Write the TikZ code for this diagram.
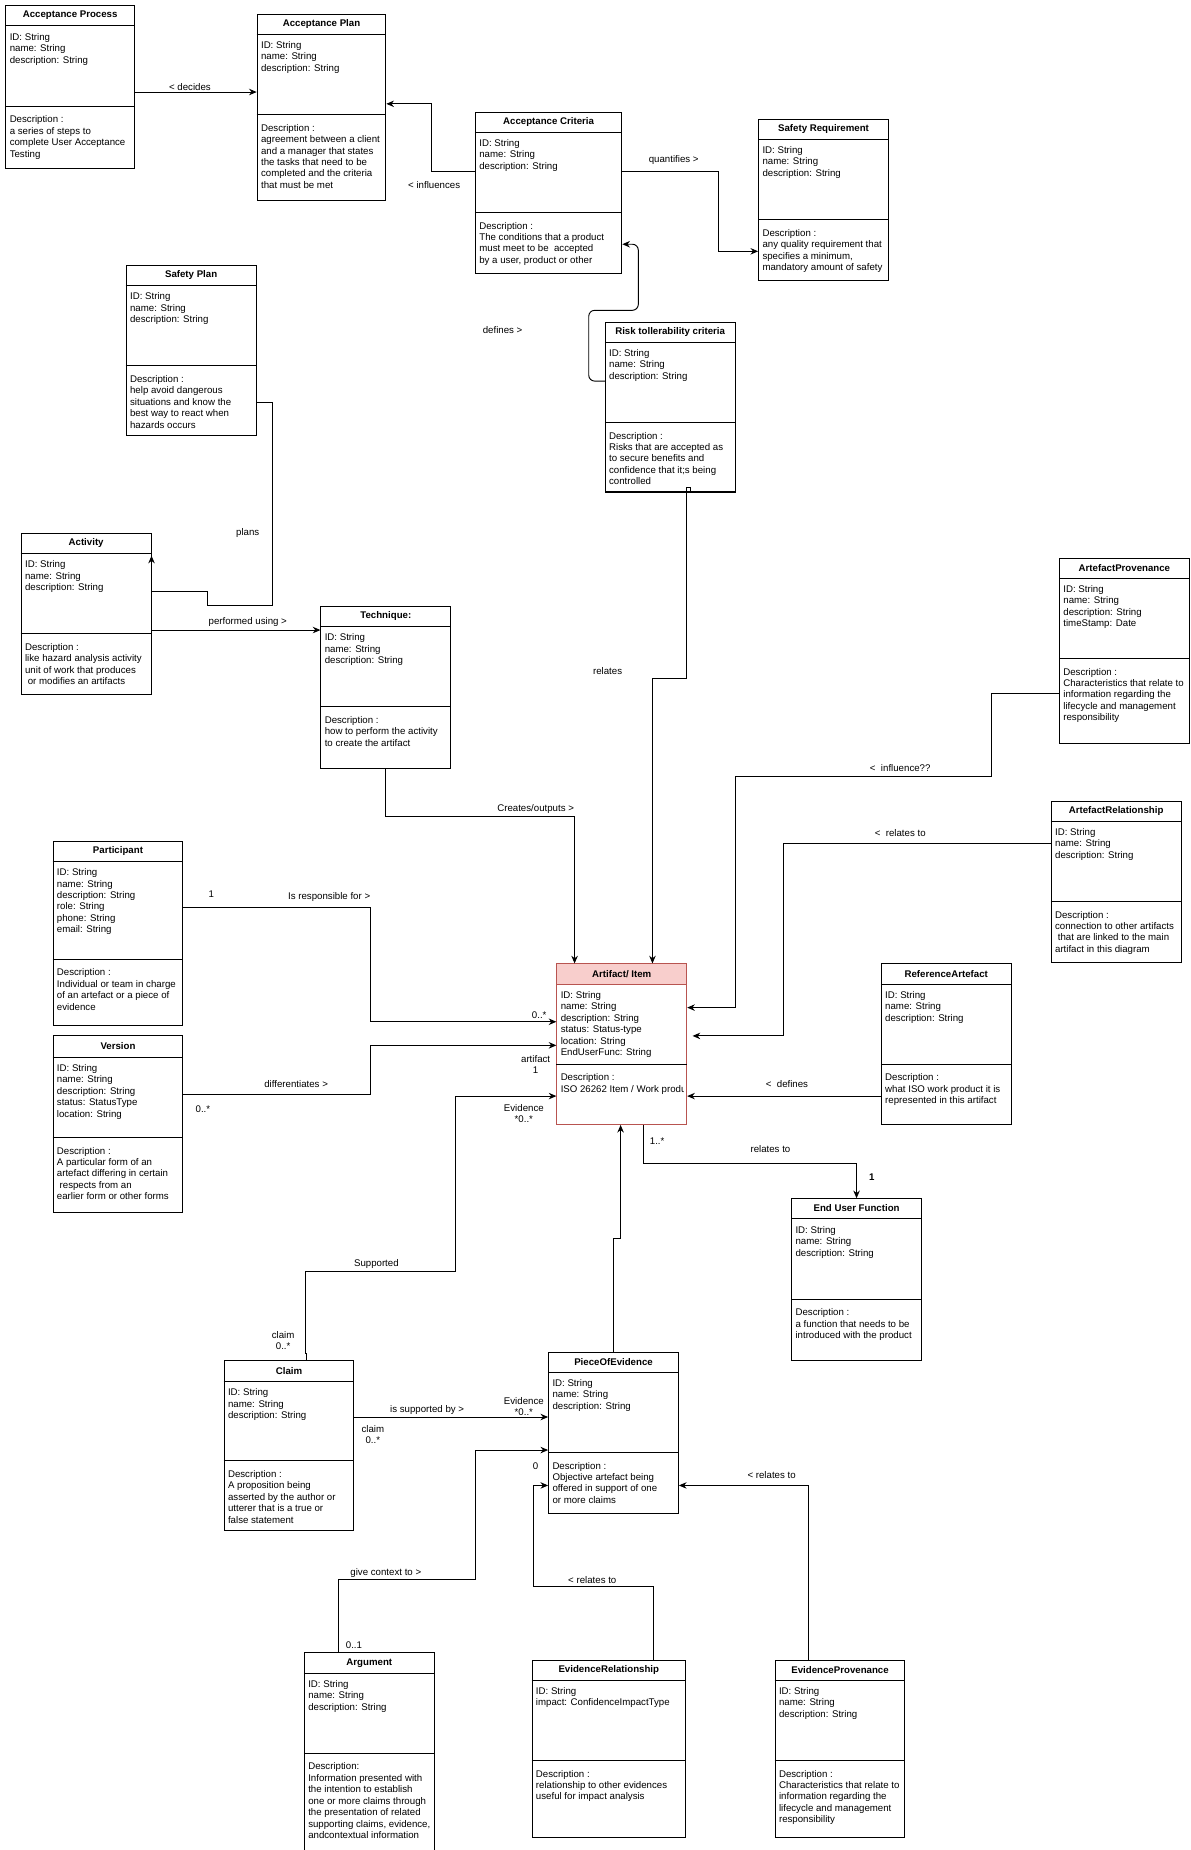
\documentclass[tikz,border=0pt]{standalone}
\usepackage{fontspec}
\setmainfont{Liberation Sans}
\usetikzlibrary{arrows.meta,fit}

\definecolor{artpink}{HTML}{F8CECC}
\definecolor{artred}{HTML}{B85450}
\newcommand\fs{\fontsize{8.2}{9.7}\selectfont}

\tikzset{
  clsbox/.style={draw=black, line width=0.85pt, inner sep=0pt},
  clshead/.style={draw=black, line width=0.85pt},
  clsline/.style={draw=black, line width=0.85pt},
  clstitle/.style={font=\fs\bfseries, inner sep=0pt},
  clsattr/.style={anchor=north west, align=left, font=\fs, inner xsep=3.5pt, inner ysep=6pt},
  clsdesc/.style={clsattr, inner ysep=8pt},
  assoc/.style={draw=black, line width=0.8pt},
  nav/.style={assoc, -{Stealth[length=6.5pt,width=5.5pt]}},
  lbl/.style={font=\fs, inner sep=1pt, align=center},
}

% #1 name, #2 top left, #3 bottom right, #4 y of header line,
% #5 y of divider, #6 title, #7 attributes, #8 description
\newcommand\umlclass[8]{%
  \node[clsbox, fit={(#2) (#3)}] (#1) {};
  \draw[clshead] (#1.west |- 0,#4) -- (#1.east |- 0,#4);
  \draw[clsline] (#1.west |- 0,#5) -- (#1.east |- 0,#5);
  \path (#1.north) -- (#1.north |- 0,#4) node[midway, clstitle] (#1-title) {#6};
  \begin{scope}
    \clip (#1.north west) rectangle ([xshift=-3.5pt]#1.south east);
    \node[clsattr] (#1-attr) at (#1.west |- 0,#4) {#7};
    \node[clsdesc] (#1-desc) at (#1.west |- 0,#5) {#8};
  \end{scope}
}
\newcommand\basicattrs{ID: String\\name: String\\description: String}

\begin{document}
\begin{tikzpicture}[x=1pt, y=-1pt]
\fill[white] (0,0) rectangle (1009,1568);
\useasboundingbox (0,0) rectangle (1009,1568);

% ---------- classes ----------
\umlclass{apr}{5,5}{114,143}{22}{90}{Acceptance Process}{\basicattrs}
  {Description :\\a series of steps to\\complete User Acceptance\\Testing}
\umlclass{apl}{218,12}{327,170}{29}{97}{Acceptance Plan}{\basicattrs}
  {Description :\\agreement between a client\\and a manager that states\\the tasks that need to be\\completed and the criteria\\that must be met}
\umlclass{acr}{403,95}{527,232}{112}{180}{Acceptance Criteria}{\basicattrs}
  {Description :\\The conditions that a product\\must meet to be\ \ accepted\\by a user, product or other}
\umlclass{sreq}{643,101}{753,238}{118}{186}{Safety Requirement}{\basicattrs}
  {Description :\\any quality requirement that\\specifies a minimum,\\mandatory amount of safety}
\umlclass{spl}{107,225}{217,369}{242}{310}{Safety Plan}{\basicattrs}
  {Description :\\help avoid dangerous\\situations and know the\\best way to react when\\hazards occurs}
\umlclass{risk}{513,273}{623,417}{290}{358}{Risk tollerability criteria}{\basicattrs}
  {Description :\\Risks that are accepted as\\to secure benefits and\\confidence that it;s being\\controlled}
\umlclass{act}{18,452}{128,589}{469}{537}{Activity}{\basicattrs}
  {Description :\\like hazard analysis activity\\unit of work that produces\\\hspace*{2.3pt}or modifies an artifacts}
\umlclass{tech}{272,514}{382,651}{531}{599}{Technique:}{\basicattrs}
  {Description :\\how to perform the activity\\to create the artifact}
\umlclass{aprov}{898,473}{1008,630}{490}{558}{ArtefactProvenance}{\basicattrs\\timeStamp: Date}
  {Description :\\Characteristics that relate to\\information regarding the\\lifecycle and management\\responsibility}
\umlclass{arel}{891,679}{1001,816}{696}{764}{ArtefactRelationship}{\basicattrs}
  {Description :\\connection to other artifacts\\\hspace*{2.3pt}that are linked to the main\\artifact in this diagram}
\umlclass{part}{45,713}{155,869}{730}{813}{Participant}{\basicattrs\\role: String\\phone: String\\email: String}
  {Description :\\Individual or team in charge\\of an artefact or a piece of\\evidence}
\umlclass{ver}{45,878}{155,1028}{896}{964}{Version}{\basicattrs\\status: StatusType\\location: String}
  {Description :\\A particular form of an\\artefact differing in certain\\\hspace*{2.3pt}respects from an\\earlier form or other forms}

\fill[artpink] (472,817) rectangle (582,834);
\begin{scope}[clsbox/.append style={draw=artred}, clshead/.append style={draw=artred}]
\umlclass{art}{472,817}{582,953}{834}{902}{Artifact/ Item}{\basicattrs\\status: Status-type\\location: String\\EndUserFunc: String}
  {Description :\\ISO 26262 Item / Work product}
\end{scope}

\umlclass{ref}{747,817}{857,953}{834}{902}{ReferenceArtefact}{\basicattrs}
  {Description :\\what ISO work product it is\\represented in this artifact}
\umlclass{euf}{671,1016}{781,1153}{1033}{1101}{End User Function}{\basicattrs}
  {Description :\\a function that needs to be\\introduced with the product}
\umlclass{claim}{190,1153}{300,1297}{1171}{1238}{Claim}{\basicattrs}
  {Description :\\A proposition being\\asserted by the author or\\utterer that is a true or\\false statement}
\umlclass{poe}{465,1146}{575,1283}{1163}{1231}{PieceOfEvidence}{\basicattrs}
  {Description :\\Objective artefact being\\offered in support of one\\or more claims}
\umlclass{arg}{258,1401}{368,1600}{1418}{1486}{Argument}{\basicattrs}
  {Description:\\Information presented with\\the intention to establish\\one or more claims through\\the presentation of related\\supporting claims, evidence,\\andcontextual information}
\umlclass{erel}{451,1407}{581,1557}{1424}{1492}{EvidenceRelationship}{ID: String\\impact: ConfidenceImpactType}
  {Description :\\relationship to other evidences\\useful for impact analysis}
\umlclass{eprov}{657,1407}{767,1557}{1424}{1492}{EvidenceProvenance}{\basicattrs}
  {Description :\\Characteristics that relate to\\information regarding the\\lifecycle and management\\responsibility}

% ---------- associations ----------
\draw[nav] (apr.east |- 0,78) -- (apl.west |- 0,78);
\draw[nav] (acr.west |- 0,145) -- (366,145) -- (366,88) -- (apl.east |- 0,88);
\draw[nav] (acr.east |- 0,145) -- (609,145) -- (609,213) -- (sreq.west |- 0,213);
\draw[nav, rounded corners=5pt] (risk.west |- 0,323) -- (499,323) -- (499,263) -- (541,263) -- (541,207) -- (acr.east |- 0,207);
\draw[nav] (spl.east |- 0,341) -- (231,341) -- (231,513) -- (176,513) -- (176,501) -- (act.east |- 0,501) -- (act.east |- 0,471);
\draw[nav] (act.east |- 0,534) -- (tech.west |- 0,534);
\draw[nav] (tech.south) -- (327,692) -- (487,692) -- (art.north -| 487,0);
\draw[nav] (risk.south -| 585,0) -- (585,413) -- (582,413) -- (582,575) -- (553,575) -- (art.north -| 553,0);
\draw[nav] (aprov.west |- 0,588) -- (840,588) -- (840,658) -- (623,658) -- (623,854) -- (art.east |- 0,854);
\coordinate (relend) at (587,878);
\draw[nav] (arel.west |- 0,715) -- (664,715) -- (664,878) -- (relend);
\draw[nav] (ref.west |- 0,929) -- (art.east |- 0,929);
\draw[nav] (art.south -| 545,0) -- (545,986) -- (726,986) -- (euf.north -| 726,0);
\draw[nav] (part.east |- 0,769) -- (314,769) -- (314,866) -- (art.west |- 0,866);
\draw[nav] (ver.east |- 0,928) -- (314,928) -- (314,886) -- (art.west |- 0,886);
\draw[nav] (claim.north -| 260,0) -- (260,1147) -- (259,1147) -- (259,1078) -- (386,1078) -- (386,929) -- (art.west |- 0,929);
\draw[nav] (poe.north -| 520,0) -- (520,1050) -- (526,1050) -- (art.south -| 526,0);
\draw[nav] (claim.east |- 0,1201) -- (poe.west |- 0,1201);
\draw[nav] (arg.north -| 287,0) -- (287,1339) -- (403,1339) -- (403,1229) -- (poe.west |- 0,1229);
\draw[nav] (erel.north -| 554,0) -- (554,1345) -- (452,1345) -- (452,1259) -- (poe.west |- 0,1259);
\draw[nav] (eprov.north -| 685,0) -- (685,1259) -- (poe.east |- 0,1259);

% ---------- labels ----------
\node[lbl] (l-decides) at (161,74) {< decides};
\node[lbl] (l-infl) at (368,157) {< influences};
\node[lbl] (l-quant) at (571,136) {quantifies >};
\node[lbl] (l-def) at (426,280) {defines >};
\node[lbl] (l-plans) at (210,452) {plans};
\node[lbl] (l-perf) at (210,527) {performed using >};
\node[lbl] (l-create) at (454,686) {Creates/outputs >};
\node[lbl] (l-rel) at (515,569) {relates};
\node[lbl] (l-infl2) at (763,651) {<\ \ influence??};
\node[lbl] (l-relto) at (763,706) {<\ \ relates to};
\node[lbl] (l-defines) at (667,919) {<\ \ defines};
\node[lbl] (l-m1) at (557,967) {1..*};
\node[lbl] (l-relto2) at (653,974) {relates to};
\node[lbl] (l-m2) at (739,998) {\bfseries 1};
\node[lbl] (l-resp) at (279,760) {Is responsible for >};
\node[lbl] (l-m3) at (179,758) {1};
\node[lbl] (l-m4) at (457,860) {0..*};
\node[lbl] (l-diff) at (251,919) {differentiates >};
\node[lbl] (l-m5) at (172,940) {0..*};
\node[lbl] (l-m6) at (454,902) {artifact\\1};
\node[lbl] (l-m7) at (444,944) {Evidence\\*0..*};
\node[lbl] (l-sup) at (319,1071) {Supported};
\node[lbl] (l-m8) at (240,1136) {claim\\0..*};
\node[lbl] (l-issup) at (362,1195) {is supported by >};
\node[lbl] (l-m9) at (444,1192) {Evidence\\*0..*};
\node[lbl] (l-m10) at (316,1216) {claim\\0..*};
\node[lbl] (l-ctx) at (327,1333) {give context to >};
\node[lbl] (l-m11) at (300,1394) {0..1};
\node[lbl] (l-m12) at (454,1243) {0};
\node[lbl] (l-relto3) at (502,1339) {< relates to};
\node[lbl] (l-relto4) at (654,1250) {< relates to};
\end{tikzpicture}
\end{document}
